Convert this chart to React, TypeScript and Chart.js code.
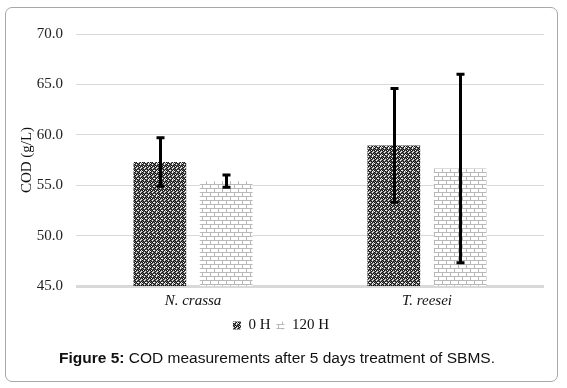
import React, { useEffect, useRef } from "react";
import { Chart, registerables } from "chart.js";

Chart.register(...registerables);

const categories = ["N. crassa", "T. reesei"];
const seriesNames = ["0 H", "120 H"];
const values0H = [57.3, 58.95];
const values120H = [55.4, 56.65];
const errors0H = [2.4, 5.65];
const errors120H = [0.6, 9.35];
const yTicks = [45, 50, 55, 60, 65, 70];

function makeCheckerPattern(): CanvasPattern | string {
  const c = document.createElement("canvas");
  c.width = 8;
  c.height = 8;
  const g = c.getContext("2d");
  if (!g) return "#555";
  const rows = [
    "KgWgKgWg",
    "gKgKgKgK",
    "WgKWKgKW",
    "gKWgWKgK",
    "KgWgKgWg",
    "gKgKgKgK",
    "KWKgKWKg",
    "gKgWgKgW",
  ];
  const col: Record<string, string> = { K: "#111111", g: "#6a6a6a", W: "#f4f4f4" };
  rows.forEach((r, y) => {
    for (let x = 0; x < r.length; x++) {
      g.fillStyle = col[r[x]];
      g.fillRect(x, y, 1, 1);
    }
  });
  return g.createPattern(c, "repeat") || "#555";
}

function makeBrickPattern(): CanvasPattern | string {
  const c = document.createElement("canvas");
  c.width = 8;
  c.height = 8;
  const g = c.getContext("2d");
  if (!g) return "#eee";
  g.fillStyle = "#ffffff";
  g.fillRect(0, 0, 8, 8);
  g.fillStyle = "#b8b8b8";
  g.fillRect(0, 0, 8, 1);
  g.fillRect(0, 4, 8, 1);
  g.fillRect(0, 1, 1, 3);
  g.fillRect(4, 5, 1, 3);
  return g.createPattern(c, "repeat") || "#eee";
}

const errorSets = [errors0H, errors120H];

const errorBarPlugin = {
  id: "errorBars",
  afterDatasetsDraw(chart: any) {
    const ctx = chart.ctx;
    const yScale = chart.scales.y;
    chart.data.datasets.forEach((ds: any, i: number) => {
      const meta = chart.getDatasetMeta(i);
      meta.data.forEach((bar: any, j: number) => {
        const v = ds.data[j];
        const e = errorSets[i][j];
        const x = Math.round(bar.x) + 0.5;
        const yt = yScale.getPixelForValue(v + e);
        const yb = yScale.getPixelForValue(v - e);
        ctx.save();
        ctx.strokeStyle = "#000";
        ctx.lineWidth = 3;
        ctx.beginPath();
        ctx.moveTo(x, yt);
        ctx.lineTo(x, yb);
        ctx.stroke();
        ctx.lineWidth = 3;
        ctx.beginPath();
        ctx.moveTo(x - 4, yt);
        ctx.lineTo(x + 4, yt);
        ctx.moveTo(x - 4, yb);
        ctx.lineTo(x + 4, yb);
        ctx.stroke();
        ctx.restore();
      });
    });
  },
};

export default function App() {
  const ref = useRef<HTMLCanvasElement | null>(null);
  useEffect(() => {
    if (!ref.current) return;
    const p0 = makeCheckerPattern();
    const p1 = makeBrickPattern();
    const chart = new Chart(ref.current, {
      type: "bar",
      data: {
        labels: categories,
        datasets: [
          {
            label: seriesNames[0],
            data: values0H,
            backgroundColor: p0 as any,
            borderWidth: 0,
            categoryPercentage: 0.567,
            barPercentage: 0.795,
          },
          {
            label: seriesNames[1],
            data: values120H,
            backgroundColor: p1 as any,
            borderWidth: 0,
            categoryPercentage: 0.567,
            barPercentage: 0.795,
          },
        ],
      },
      options: {
        animation: false,
        responsive: false,
        maintainAspectRatio: false,
        layout: { padding: { top: 34, right: 23, left: 0, bottom: 10 } },
        plugins: {
          tooltip: { enabled: false },
          legend: {
            position: "bottom",
            labels: {
              boxWidth: 8,
              boxHeight: 8,
              padding: 6,
              color: "#111",
              font: { family: "Liberation Serif", size: 15 },
            },
          },
        },
        scales: {
          x: {
            grid: { display: false, drawTicks: false },
            border: { display: false },
            afterFit: (s: any) => {
              s.height = s.height - 4;
            },
            ticks: {
              padding: 6,
              color: "#111",
              font: { family: "Liberation Serif", size: 15, style: "italic" },
            },
          },
          y: {
            min: 45,
            max: 70,
            afterFit: (s: any) => {
              s.width = 58;
            },
            afterBuildTicks: (s: any) => {
              s.ticks = yTicks.map((v) => ({ value: v }));
            },
            grid: {
              drawTicks: false,
              color: "#d9d9d9",
              lineWidth: (c: any) => (c.tick && c.tick.value === 45 ? 3 : 1),
            },
            border: { display: false },
            ticks: {
              padding: 13,
              color: "#222",
              font: { family: "Liberation Serif", size: 15 },
              callback: (v: any) => Number(v).toFixed(1),
            },
            title: {
              display: true,
              text: "COD (g/L)",
              color: "#111",
              padding: { top: 0, bottom: 0 },
              font: { family: "Liberation Serif", size: 15 },
            },
          },
        },
      },
      plugins: [errorBarPlugin],
    });
    return () => chart.destroy();
  }, []);

  return (
    <div>
      <div
        style={{
          position: "absolute",
          left: 5,
          top: 7,
          width: 553,
          height: 375,
          boxSizing: "border-box",
          border: "1px solid #a8a8a8",
          borderRadius: 7,
        }}
      />
      <canvas
        ref={ref}
        width={549}
        height={353}
        style={{ position: "absolute", left: 18, top: 0, width: 549, height: 353 }}
      />
      <div
        style={{
          position: "absolute",
          left: 0,
          width: 554,
          top: 349,
          textAlign: "center",
          fontFamily: "Liberation Sans, Arial, sans-serif",
          fontSize: 15.5,
          color: "#111",
          lineHeight: "18px",
          whiteSpace: "nowrap",
        }}
      >
        <b>Figure 5:</b> COD measurements after 5 days treatment of SBMS.
      </div>
    </div>
  );
}
